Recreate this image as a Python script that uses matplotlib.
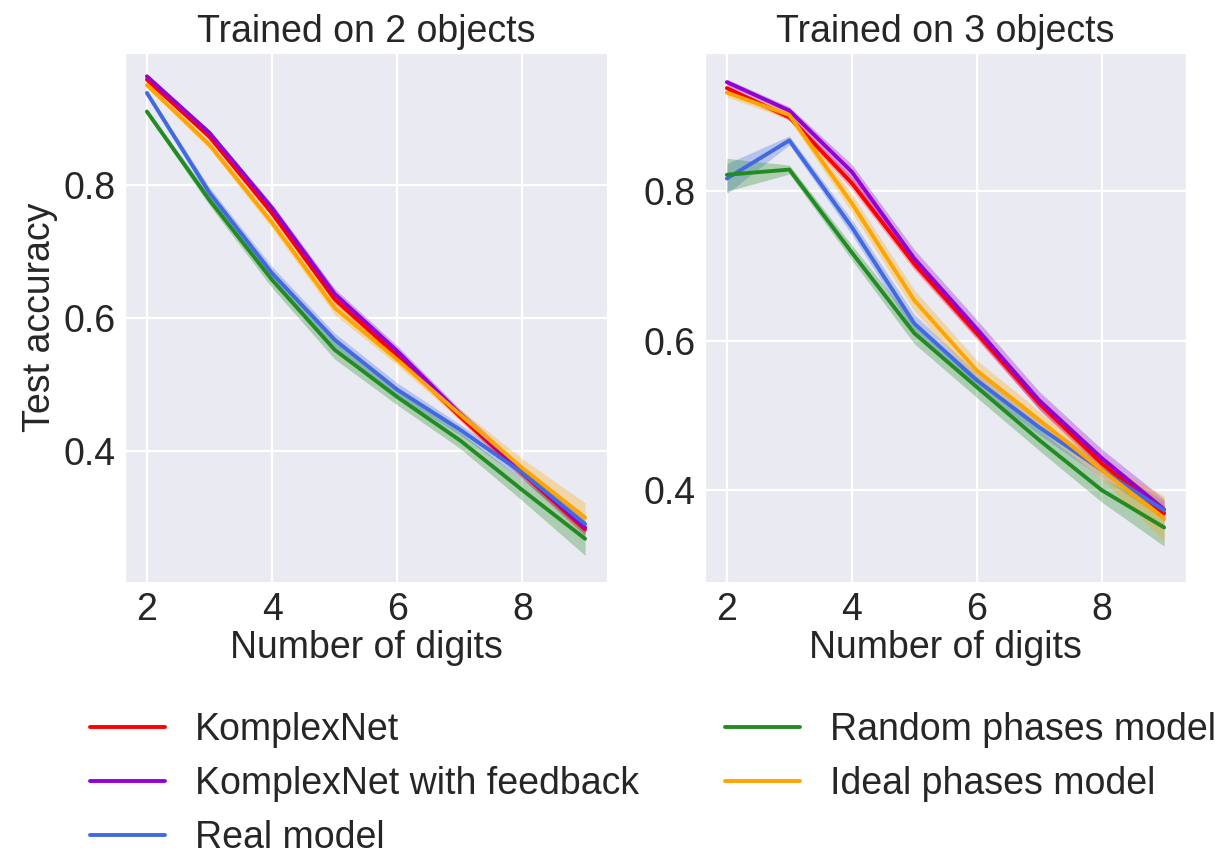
import numpy as np
import matplotlib
matplotlib.use("Agg")
import matplotlib.pyplot as plt
import seaborn as sns

sns.set_style("darkgrid")
plt.rcParams["font.family"] = ["Liberation Sans", "DejaVu Sans"]
plt.rcParams["grid.linewidth"] = 1.6

digits = [2, 3, 4, 5, 6, 7, 8, 9]
names = ["KomplexNet", "KomplexNet with feedback", "Real model",
         "Random phases model", "Ideal phases model"]
colors = ["red", "darkviolet", "royalblue", "forestgreen", "orange"]

# trained on 2 objects: mean accuracy and half width of the shaded band
acc_2obj = {
    "KomplexNet":               [0.958, 0.872, 0.757, 0.628, 0.543, 0.452, 0.366, 0.282],
    "KomplexNet with feedback": [0.963, 0.878, 0.765, 0.636, 0.550, 0.456, 0.368, 0.285],
    "Real model":               [0.938, 0.788, 0.667, 0.567, 0.492, 0.432, 0.367, 0.290],
    "Random phases model":      [0.910, 0.777, 0.657, 0.552, 0.481, 0.416, 0.341, 0.268],
    "Ideal phases model":       [0.950, 0.860, 0.743, 0.615, 0.537, 0.455, 0.374, 0.300],
}
band_2obj = {
    "KomplexNet":               [0.003, 0.004, 0.005, 0.006, 0.006, 0.006, 0.008, 0.010],
    "KomplexNet with feedback": [0.003, 0.004, 0.006, 0.008, 0.008, 0.007, 0.008, 0.010],
    "Real model":               [0.004, 0.008, 0.010, 0.010, 0.010, 0.008, 0.010, 0.012],
    "Random phases model":      [0.004, 0.008, 0.012, 0.014, 0.012, 0.012, 0.016, 0.025],
    "Ideal phases model":       [0.004, 0.006, 0.008, 0.010, 0.008, 0.008, 0.014, 0.022],
}

# trained on 3 objects
acc_3obj = {
    "KomplexNet":               [0.938, 0.899, 0.811, 0.703, 0.610, 0.516, 0.436, 0.369],
    "KomplexNet with feedback": [0.946, 0.908, 0.826, 0.710, 0.616, 0.520, 0.443, 0.374],
    "Real model":               [0.817, 0.868, 0.752, 0.623, 0.547, 0.484, 0.427, 0.373],
    "Random phases model":      [0.822, 0.829, 0.718, 0.610, 0.538, 0.467, 0.400, 0.350],
    "Ideal phases model":       [0.932, 0.902, 0.784, 0.654, 0.560, 0.494, 0.427, 0.362],
}
band_3obj = {
    "KomplexNet":               [0.004, 0.004, 0.008, 0.008, 0.008, 0.008, 0.008, 0.010],
    "KomplexNet with feedback": [0.004, 0.005, 0.010, 0.012, 0.012, 0.012, 0.012, 0.014],
    "Real model":               [0.020, 0.006, 0.010, 0.012, 0.010, 0.010, 0.010, 0.012],
    "Random phases model":      [0.022, 0.006, 0.010, 0.014, 0.014, 0.014, 0.016, 0.025],
    "Ideal phases model":       [0.006, 0.006, 0.012, 0.014, 0.014, 0.012, 0.012, 0.030],
}

titles = ["Trained on 2 objects", "Trained on 3 objects"]

fig = plt.figure(figsize=(12.25, 8.58), dpi=100)
W, H = 1225, 858
ax1 = fig.add_axes([125 / W, (H - 582) / H, 482 / W, 529 / H])
ax2 = fig.add_axes([705 / W, (H - 582) / H, 481 / W, 529 / H])

fs = 27
for ax, acc, band, title in [(ax1, acc_2obj, band_2obj, titles[0]),
                             (ax2, acc_3obj, band_3obj, titles[1])]:
    for name, c in zip(names, colors):
        m = np.array(acc[name])
        b = np.array(band[name])
        ax.fill_between(digits, m - b, m + b, color=c, alpha=0.3, lw=0)
        ax.plot(digits, m, color=c, lw=2.8, label=name)
    ax.set_title(title, fontsize=fs, pad=8)
    ax.set_xlabel("Number of digits", fontsize=fs, labelpad=2)
    ax.set_xlim(1.65, 9.35)
    ax.set_xticks([2, 4, 6, 8])
    ax.tick_params(labelsize=fs)

ax1.set_ylim(0.203, 0.998)
ax1.set_yticks([0.4, 0.6, 0.8])
ax1.set_ylabel("Test accuracy", fontsize=fs)
ax2.set_ylim(0.277, 0.985)
ax2.set_yticks([0.4, 0.6, 0.8])

handles, labels = ax1.get_legend_handles_labels()
fig.legend(handles, labels,
           loc="upper left", bbox_to_anchor=(90 / W, (H - 712) / H),
           ncol=2, frameon=False, fontsize=fs, borderpad=0,
           borderaxespad=0, columnspacing=2.3, labelspacing=0.48)

fig.savefig("out.png", dpi=100)
